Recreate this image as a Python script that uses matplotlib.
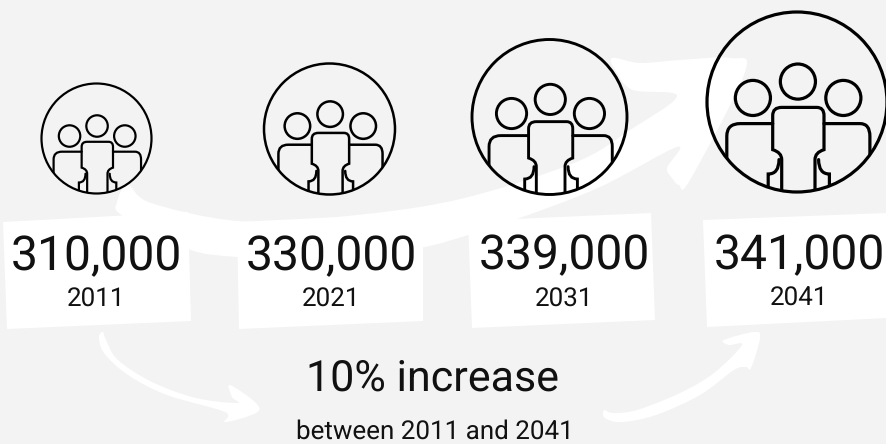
import matplotlib
matplotlib.use('Agg')
from matplotlib import pyplot as plt
from matplotlib.path import Path
from matplotlib.patches import PathPatch, Circle, Polygon

plt.rcParams['text.hinting'] = 'no_hinting'
plt.rcParams['text.hinting_factor'] = 1

# population figures shown under each icon
years = [2011, 2021, 2031, 2041]
population = [310000, 330000, 339000, 341000]
headline = '10% increase'
subline = 'between 2011 and 2041'

BG = '#f3f3f3'
INK = '#111111'

# icon centre x, centre y, radius, stroke in px
icons = [(96.5, 138.5, 55, 2.2), (329.5, 129, 65.5, 2.5), (549.5, 117, 77.5, 2.9), (797, 102, 90, 3.2)]
# label centre x, big text baseline, small text baseline
labels = [(96, 270, 306), (331, 270, 306), (564.5, 269, 306), (799, 269, 305)]
cards = [
    [(3, 222), (188, 212), (191, 321), (7, 329)],
    [(237, 222), (423, 213), (423, 321), (239, 329)],
    [(468, 221), (651, 213), (655, 320), (472, 328)],
    [(703, 220), (887, 213), (887, 318), (707, 327)],
]

big_arrow = [(128, 185), (117, 202), (123, 216), (188, 249), (237, 257), (330, 262), (420, 248), (468, 235),
             (520, 218), (600, 187), (677, 147), (667, 168), (672, 178), (679, 185), (690, 180), (745, 72),
             (730, 58), (680, 60), (640, 63), (612, 58), (617, 73), (633, 90), (677, 96), (630, 130),
             (574, 163), (456, 200), (337, 217), (238, 221), (151, 203)]
left_arrow = [(103, 332), (99, 337), (104, 353), (128, 375), (167, 395), (225, 412), (225, 422), (256, 413),
              (256, 403), (230, 385), (232, 397), (237, 403), (196, 398), (152, 382), (118, 360), (106, 340)]
right_arrow = [(604, 410), (605, 418), (622, 422), (656, 415), (700, 395), (734, 370), (746, 367), (751, 368),
               (760, 338), (754, 332), (724, 340), (729, 345), (742, 345), (714, 373), (680, 393), (637, 410),
               (613, 413)]


def smooth(points):
    # closed catmull-rom outline turned into bezier segments
    n = len(points)
    verts = [points[0]]
    codes = [Path.MOVETO]
    for i in range(n):
        p0, p1, p2, p3 = points[i - 1], points[i], points[(i + 1) % n], points[(i + 2) % n]
        c1 = (p1[0] + (p2[0] - p0[0]) / 6, p1[1] + (p2[1] - p0[1]) / 6)
        c2 = (p2[0] - (p3[0] - p1[0]) / 6, p2[1] - (p3[1] - p1[1]) / 6)
        verts += [c1, c2, p2]
        codes += [Path.CURVE4] * 3
    return Path(verts, codes)


def stroke(ax, cx, cy, r, lw, clip, verts, codes):
    pts = [(cx + x * r, cy + y * r) for x, y in verts]
    patch = PathPatch(Path(pts, codes), fill=False, edgecolor='black', lw=lw * 0.72, capstyle='round', zorder=4)
    ax.add_patch(patch)
    patch.set_clip_path(clip)


def draw_icon(ax, cx, cy, r, px):
    M, L, Q = Path.MOVETO, Path.LINETO, Path.CURVE3
    ring = Circle((cx, cy), r, fill=False, edgecolor='black', lw=px * 0.72, zorder=5)
    ax.add_patch(ring)
    for hx, hy in [(0.01, -0.227), (-0.49, -0.045), (0.515, -0.045)]:
        ax.add_patch(Circle((cx + hx * r, cy + hy * r), 0.195 * r, fill=False, edgecolor='black',
                            lw=px * 0.72, zorder=4))
    clip = Circle((cx, cy), r, transform=ax.transData)
    # centre figure
    stroke(ax, cx, cy, r, px, clip,
           [(-0.17, 1.1), (-0.17, 0.64), (-0.17, 0.56), (-0.27, 0.53), (-0.27, 0.53), (-0.27, 0.15), (-0.27, 0.06),
            (-0.17, 0.06), (0.22, 0.06), (0.3, 0.06), (0.3, 0.15), (0.3, 0.53), (0.3, 0.53), (0.2, 0.56),
            (0.2, 0.64), (0.2, 1.1)],
           [M, L, Q, Q, L, L, Q, Q, L, Q, Q, L, L, Q, Q, L])
    # figures either side
    stroke(ax, cx, cy, r, px, clip,
           [(-0.27, 0.24), (-0.63, 0.24), (-0.78, 0.24), (-0.78, 0.38), (-0.78, 0.85)],
           [M, L, Q, Q, L])
    stroke(ax, cx, cy, r, px, clip,
           [(0.3, 0.24), (0.7, 0.24), (0.81, 0.24), (0.81, 0.38), (0.81, 0.85)],
           [M, L, Q, Q, L])
    stroke(ax, cx, cy, r, px, clip,
           [(-0.32, 1.0), (-0.32, 0.8), (-0.2, 0.8), (-0.2, 0.64)], [M, L, Q, Q])
    stroke(ax, cx, cy, r, px, clip,
           [(0.36, 1.0), (0.36, 0.8), (0.24, 0.8), (0.24, 0.64)], [M, L, Q, Q])


fig = plt.figure(figsize=(8.87, 4.44), dpi=100, facecolor=BG)
ax = fig.add_axes([0, 0, 1, 1])
ax.set_xlim(0, 887)
ax.set_ylim(444, 0)
ax.axis('off')

for shape in (big_arrow, left_arrow, right_arrow):
    ax.add_patch(PathPatch(smooth(shape), facecolor='white', edgecolor='none', zorder=1))
for card in cards:
    ax.add_patch(Polygon(card, closed=True, facecolor='white', edgecolor='none', zorder=2))

for cx, cy, r, px in icons:
    draw_icon(ax, cx, cy, r, px)

for value, year, (x, y1, y2) in zip(population, years, labels):
    ax.text(x, y1, f'{value:,}', family='Roboto', fontsize=34.5, color=INK, ha='center', va='baseline', zorder=6)
    ax.text(x, y2, str(year), family='Roboto', fontsize=19, color=INK, ha='center', va='baseline', zorder=6)

ax.text(432.5, 391, headline, family='Roboto', fontsize=30.8, color=INK, ha='center', va='baseline', zorder=6)
ax.text(434.5, 439, subline, family='Roboto', fontsize=18.8, color=INK, ha='center', va='baseline', zorder=6)

fig.savefig('out.png', dpi=100, facecolor=BG)
